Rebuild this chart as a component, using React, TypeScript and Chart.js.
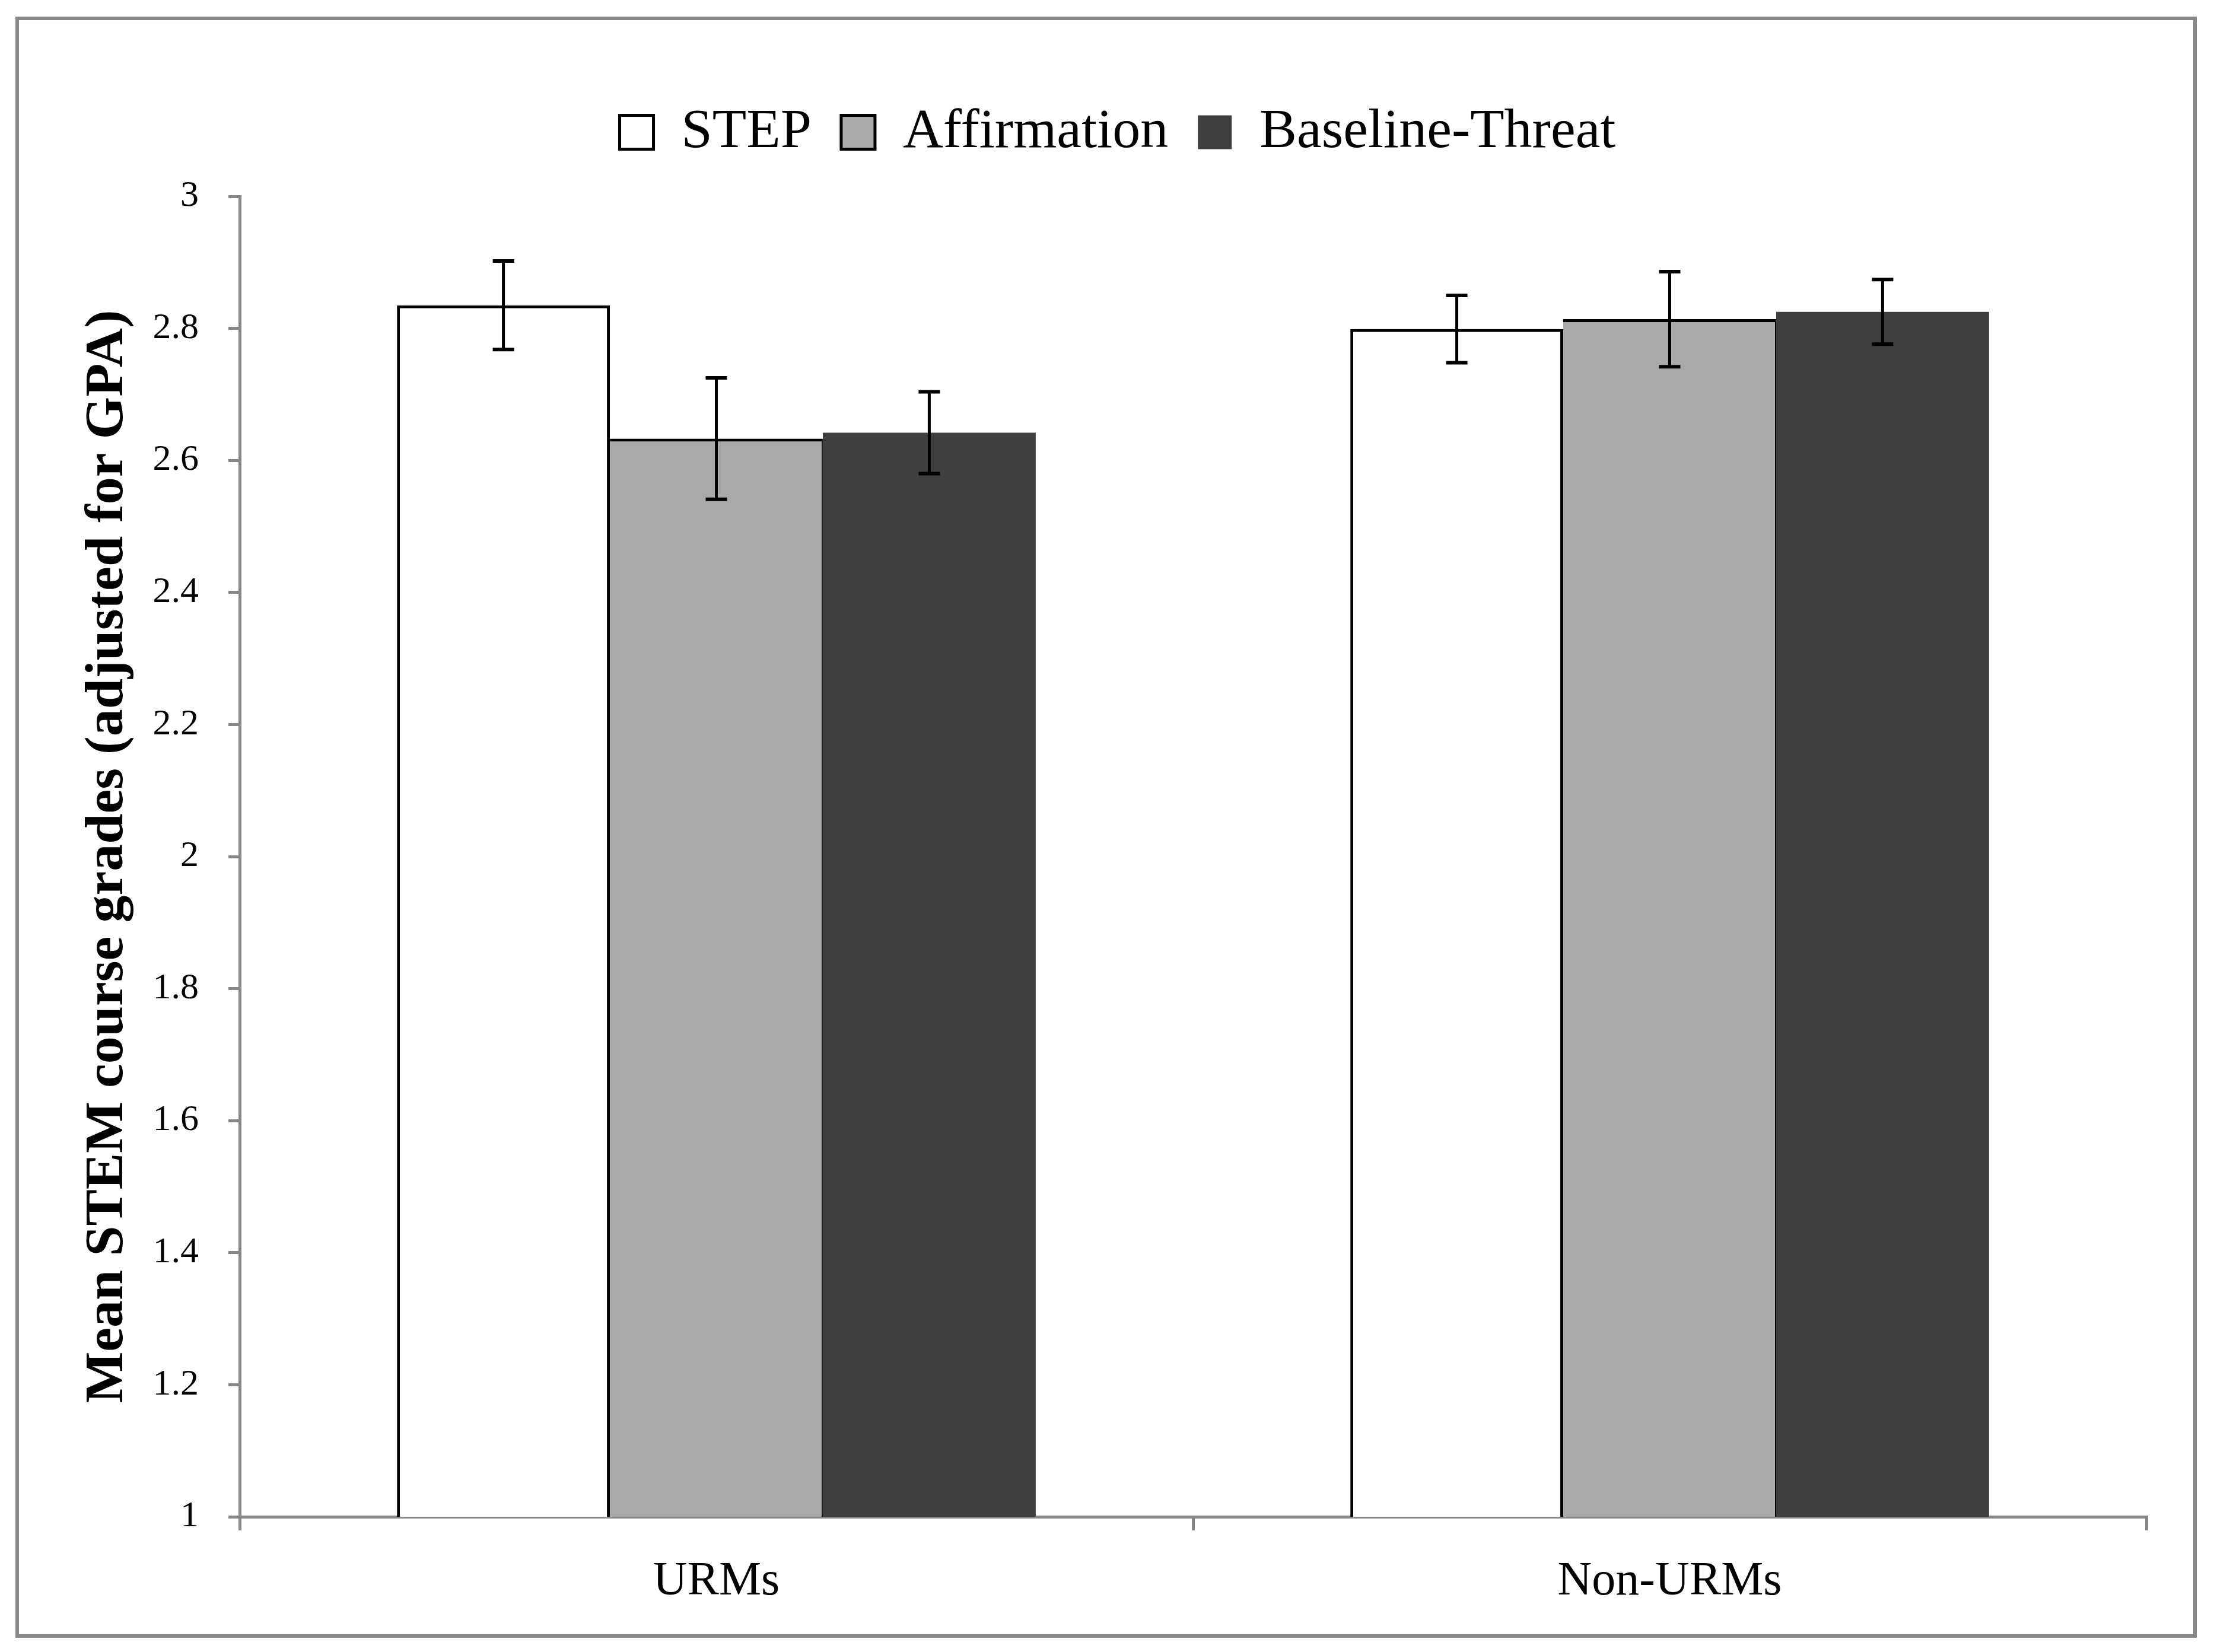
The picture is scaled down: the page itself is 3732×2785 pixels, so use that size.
import { useEffect, useRef } from "react"
import { Chart, registerables } from "chart.js"

Chart.register(...registerables)

const categories = ["URMs", "Non-URMs"]
const seriesNames = ["STEP", "Affirmation", "Baseline-Threat"]
const stepValues = [2.835, 2.799]
const affirmationValues = [2.633, 2.814]
const baselineValues = [2.642, 2.825]
const stepErrors = [0.067, 0.051]
const affirmationErrors = [0.092, 0.072]
const baselineErrors = [0.062, 0.049]
const yTicks = [1, 1.2, 1.4, 1.6, 1.8, 2, 2.2, 2.4, 2.6, 2.8, 3]

const errorSets = [stepErrors, affirmationErrors, baselineErrors]

const SERIF = '"Liberation Serif", "Times New Roman", serif'
const AXIS_GRAY = "#878787"

// draws the +/- error whiskers on top of each bar
const errorBarsPlugin = {
  id: "errorBars",
  afterDatasetsDraw(chart: Chart) {
    const { ctx } = chart
    const y = chart.scales.y
    ctx.save()
    ctx.strokeStyle = "#000"
    ctx.lineCap = "butt"
    chart.data.datasets.forEach((ds, di) => {
      const meta = chart.getDatasetMeta(di)
      const errs = errorSets[di]
      meta.data.forEach((bar: any, i: number) => {
        const v = ds.data[i] as number
        const top = y.getPixelForValue(v + errs[i])
        const bot = y.getPixelForValue(v - errs[i])
        const x = bar.x
        ctx.lineWidth = 5
        ctx.beginPath()
        ctx.moveTo(x, top)
        ctx.lineTo(x, bot)
        ctx.stroke()
        ctx.lineWidth = 6
        ctx.beginPath()
        ctx.moveTo(x - 18, top)
        ctx.lineTo(x + 18, top)
        ctx.moveTo(x - 18, bot)
        ctx.lineTo(x + 18, bot)
        ctx.stroke()
      })
    })
    ctx.restore()
  },
}

export default function App() {
  const canvasRef = useRef<HTMLCanvasElement>(null)
  const chartRef = useRef<Chart | null>(null)

  useEffect(() => {
    document.body.style.margin = "0"
    document.body.style.overflow = "hidden"
    if (!canvasRef.current) return
    if (chartRef.current) chartRef.current.destroy()

    Chart.defaults.font.family = SERIF
    Chart.defaults.color = "#000"

    chartRef.current = new Chart(canvasRef.current, {
      type: "bar",
      data: {
        labels: categories,
        datasets: [
          {
            label: seriesNames[0],
            data: stepValues,
            backgroundColor: "#ffffff",
            borderColor: "#000000",
            borderWidth: { top: 5, left: 5, right: 5, bottom: 0 },
            borderSkipped: false,
          },
          {
            label: seriesNames[1],
            data: affirmationValues,
            backgroundColor: "#a9a9a9",
            borderColor: "#000000",
            borderWidth: { top: 5, left: 0, right: 2, bottom: 0 },
            borderSkipped: false,
          },
          {
            label: seriesNames[2],
            data: baselineValues,
            backgroundColor: "#3f3f3f",
            borderColor: "#3f3f3f",
            borderWidth: 0,
          },
        ],
      },
      options: {
        animation: false,
        responsive: true,
        maintainAspectRatio: false,
        devicePixelRatio: 1,
        layout: { padding: { top: 126, left: 150, right: 114, bottom: 0 } },
        datasets: {
          bar: { categoryPercentage: 0.67, barPercentage: 1 },
        },
        plugins: {
          tooltip: { enabled: false },
          legend: {
            position: "top",
            labels: {
              font: { family: SERIF, size: 94 },
              color: "#000",
              boxWidth: 57,
              boxHeight: 57,
              padding: 50,
              generateLabels(chart: Chart) {
                const items = Chart.defaults.plugins.legend.labels.generateLabels(chart)
                items.forEach((it: any, i: number) => {
                  it.lineWidth = i < 2 ? 5 : 0
                  it.strokeStyle = i < 2 ? "#000" : "#3f3f3f"
                })
                return items
              },
            },
          },
          // empty title used only as a gap between legend and plot
          title: {
            display: true,
            text: "",
            weight: 500,
            font: { size: 10, lineHeight: 1.2 },
            padding: { top: 39, bottom: 0 },
          },
        },
        scales: {
          x: {
            afterFit(scale: any) {
              scale.height = 228
            },
            grid: {
              display: true,
              drawOnChartArea: false,
              drawTicks: true,
              tickLength: 23,
              color: AXIS_GRAY,
              lineWidth: 5,
              offset: true,
            },
            border: { display: true, color: AXIS_GRAY, width: 5 },
            ticks: {
              font: { family: SERIF, size: 80 },
              color: "#000",
              padding: 39,
            },
          },
          y: {
            min: 1,
            max: 3,
            afterFit(scale: any) {
              scale.width = 254
            },
            afterBuildTicks(scale: any) {
              scale.ticks = yTicks.map((v) => ({ value: v }))
            },
            grid: {
              display: true,
              drawOnChartArea: false,
              drawTicks: true,
              tickLength: 19,
              color: AXIS_GRAY,
              lineWidth: 5,
            },
            border: { display: true, color: AXIS_GRAY, width: 5 },
            ticks: {
              font: { family: SERIF, size: 62 },
              color: "#000",
              padding: 50,
              callback: (v: any) => String(Math.round(Number(v) * 10) / 10),
            },
            title: {
              display: true,
              text: "Mean STEM course grades (adjusted for GPA)",
              font: { family: SERIF, size: 92, weight: "bold" },
              color: "#000",
              padding: { top: -23, bottom: 0 },
            },
          },
        },
      },
      plugins: [errorBarsPlugin],
    })

    return () => {
      if (chartRef.current) {
        chartRef.current.destroy()
        chartRef.current = null
      }
    }
  }, [])

  return (
    <div style={{ position: "absolute", left: 0, top: 0, width: 3732, height: 2785, background: "#fff" }}>
      <canvas ref={canvasRef} />
      <div
        style={{
          position: "absolute",
          left: 26,
          top: 28,
          width: 3677,
          height: 2733,
          border: "6px solid #888",
          boxSizing: "border-box",
          pointerEvents: "none",
        }}
      />
    </div>
  )
}
